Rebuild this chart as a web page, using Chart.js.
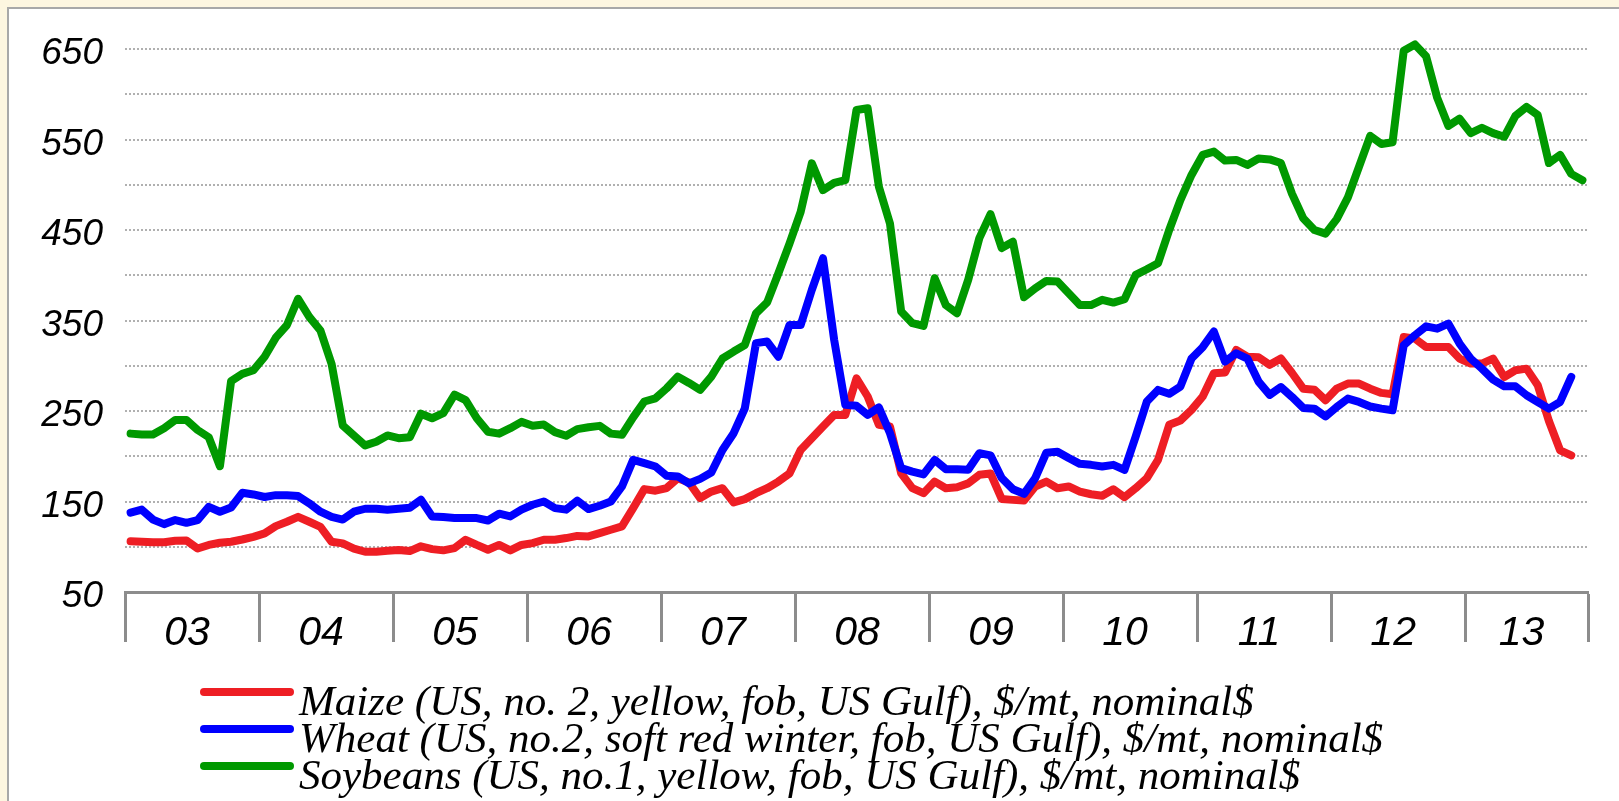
<!DOCTYPE html>
<html><head><meta charset="utf-8">
<script src="https://cdn.jsdelivr.net/npm/chart.js@4.4.1/dist/chart.umd.min.js"></script>
<style>
html,body{margin:0;padding:0;width:1619px;height:801px;overflow:hidden;background:#fdf6e0;}
#frame{position:absolute;left:7px;top:7px;width:1640px;height:830px;background:#fff;border-left:2px solid #a8a8a8;border-top:2px solid #a8a8a8;}
#wrap{position:absolute;left:0;top:0;width:1619px;height:801px;}
#legend{position:absolute;left:0;top:0;width:1619px;height:801px;pointer-events:none;}
.row{position:absolute;left:200px;height:0;white-space:nowrap;}
.swatch{position:absolute;left:0;top:-4px;width:94px;height:8px;border-radius:4px;}
.txt{position:absolute;left:99px;top:-12px;font-family:'Liberation Serif','Times New Roman',serif;font-style:italic;font-size:43px;line-height:42px;color:#000;}
</style></head>
<body>
<div id="frame"></div>
<div id="wrap"><canvas id="c" width="1619" height="801"></canvas></div>
<div id="legend"></div>
<script>
const years = ['03','04','05','06','07','08','09','10','11','12','13'];
const seriesNames = [
  'Maize (US, no. 2, yellow, fob, US Gulf), $/mt, nominal$',
  'Wheat (US, no.2, soft red winter, fob, US Gulf), $/mt, nominal$',
  'Soybeans (US, no.1, yellow, fob, US Gulf), $/mt, nominal$'
];
const seriesColors = ['#ee1e24', '#0000ff', '#009900'];
const yTickLabels = ['50','150','250','350','450','550','650'];

// monthly values, Jan 2003 onwards
const maize = [
  106,105.5,105,105,106.6,107,98,102,104.4,105.5,108,111,
  114.7,122.8,127.6,133,127.6,122,105.5,103.7,98,94.5,94.5,95.6,
  96.3,95.2,100.5,97.4,96,98.5,107.7,102,96.7,102,96,102,
  104,107.7,107.7,109.6,112,111.4,115,118.8,122.5,142.7,163.7,161.9,
  164.8,175.8,171,153.8,161,164.7,149,152.6,159.2,164.7,172,181,
  207,220,232.8,245.7,245.7,286,266,234.7,232.8,181,164.7,159.2,
  172,164.7,165.8,170,179.5,181,152.8,151.8,151,166.6,172,164.7,
  166.6,161,158,156.3,163.6,154.8,164.7,175.8,196,234.7,239.5,251.3,
  266,291.8,292.5,317.5,310,309.4,301,308,292,274.7,273.6,261.9,
  274.7,280.3,280.3,274.7,270,268.5,331.8,330,320.8,320.8,320.8,307.9,
  302.4,302.4,307.9,287.6,295,296.8,278.4,239,206.6,201
];
const wheat = [
  137.6,141,130,125,129.5,126.5,129.5,144,138.7,143.4,159.6,157.8,
  155,157,157,156,148,138.7,133,130,138.7,142,142,141,
  142,143,152,133.5,132.8,131.7,131.7,131.7,129,136.5,133.5,141,
  146.4,150,142.7,141,151,141.6,145.3,150,166.6,196,192.4,188.7,
  178.4,177.7,170,175,182,207,225.5,253,325,326.7,310,345,
  345,383.8,418.8,328.6,256.8,255.7,245.7,254,225.5,186.8,183,180,
  196,185.7,185.7,185,203.4,201,176,163.6,158.5,175.8,204,205,
  198,191.6,190.5,188.7,190.5,185,221.8,260.5,273.3,269,277,308,
  320.5,337.8,304.6,313.8,308,282.5,267.8,276.5,265.5,253.4,252.6,244,
  254.5,263.7,260,255,252.6,250.8,322.6,333.7,343.6,341,346.5,324.5,
  307.9,296.8,284.7,277.3,277.3,267.4,260,252.6,260,287.6
];
const soybeans = [
  225,224,224,231,240,240,229,221,189,283,291,295,
  310,331,345,374,354,339,302,234,223,212,216,223,
  220,221,247,242,247.6,268,262,242,227,225,231,238,
  233.6,235,226.7,222.6,230,232,233.6,225,223.7,243,260.5,264,
  275,288,281,273.4,288,308,315.7,323,358,370,402,435,
  470,523.7,494,502,505,582.6,584.5,498,457,359.9,347,344,
  396.7,367,358,394.9,441,467.5,430,437,375.7,385.6,393.7,393,
  380,367,367,372.8,369.8,373.5,400.4,406.6,413.3,450,483,510.8,
  533,536.6,526.7,527.4,521.9,529,528,524,490,463,450,446,
  462,486,520,554,545,547,648,655,642,596,565,573,
  557,563,557,553,576,586,577,524,533,512,505
];

const nMonths = soybeans.length;
const bounds = years.map((y, k) => k * 12 - 0.5).concat([nMonths - 0.5]);
const centers = years.map((y, k) => (bounds[k] + bounds[k + 1]) / 2);
const tickVals = bounds.concat(centers).sort((a, b) => a - b);
const isBoundary = v => bounds.some(b => Math.abs(b - v) < 1e-6);
const labelFor = v => { const k = centers.findIndex(c => Math.abs(c - v) < 1e-6); return k >= 0 ? years[k] : ''; };
const toXY = arr => arr.map((v, i) => ({ x: i, y: v }));

const allSeries = [maize, wheat, soybeans];
const datasets = allSeries.map((arr, k) => ({
  label: seriesNames[k],
  data: toXY(arr),
  borderColor: seriesColors[k],
  backgroundColor: seriesColors[k],
  borderWidth: 8,
  pointRadius: 0,
  tension: 0,
  borderJoinStyle: 'round',
  borderCapStyle: 'round',
  clip: false,
  order: 3 - k
}));

const chart = new Chart(document.getElementById('c'), {
  type: 'line',
  data: { datasets },
  options: {
    responsive: false,
    animation: false,
    devicePixelRatio: 1,
    layout: { padding: { top: 49, left: 0, right: 31, bottom: 149 } },
    plugins: { legend: { display: false }, tooltip: { enabled: false } },
    scales: {
      x: {
        type: 'linear',
        min: -0.5,
        max: nMonths - 0.5,
        afterBuildTicks: axis => { axis.ticks = tickVals.map(v => ({ value: v })); },
        afterFit: s => { s.height = 60; },
        ticks: {
          autoSkip: false, maxRotation: 0, minRotation: 0, padding: -33, labelOffset: -5,
          color: '#000',
          font: { family: "'Liberation Sans', Arial, sans-serif", style: 'italic', size: 41 },
          callback: v => labelFor(v)
        },
        grid: {
          drawOnChartArea: false, drawTicks: true, tickLength: 50, tickWidth: 3,
          tickColor: ctx => (ctx.tick && isBoundary(ctx.tick.value)) ? '#8c8c8c' : 'rgba(0,0,0,0)'
        },
        border: { display: true, color: '#8c8c8c', width: 3 }
      },
      y: {
        min: 50, max: 650,
        afterFit: s => { s.width = 125; },
        ticks: {
          stepSize: 50, autoSkip: false, padding: 22, labelOffset: 5,
          color: '#000',
          font: { family: "'Liberation Sans', Arial, sans-serif", style: 'italic', size: 37 },
          callback: v => yTickLabels.includes(String(v)) ? String(v) : ''
        },
        grid: {
          drawTicks: false, lineWidth: 2,
          color: ctx => (ctx.tick && ctx.tick.value === 50) ? 'rgba(0,0,0,0)' : '#b0b0b0'
        },
        border: { display: false, dash: [2, 2] }
      }
    }
  }
});

// HTML legend built from the chart's datasets
const legendEl = document.getElementById('legend');
const rowCenters = [692, 729, 766];
chart.data.datasets.forEach((ds, k) => {
  const row = document.createElement('div');
  row.className = 'row';
  row.style.top = rowCenters[k] + 'px';
  const sw = document.createElement('div');
  sw.className = 'swatch';
  sw.style.background = ds.borderColor;
  const tx = document.createElement('span');
  tx.className = 'txt';
  tx.textContent = ds.label;
  row.appendChild(sw); row.appendChild(tx);
  legendEl.appendChild(row);
});
</script>
</body></html>
